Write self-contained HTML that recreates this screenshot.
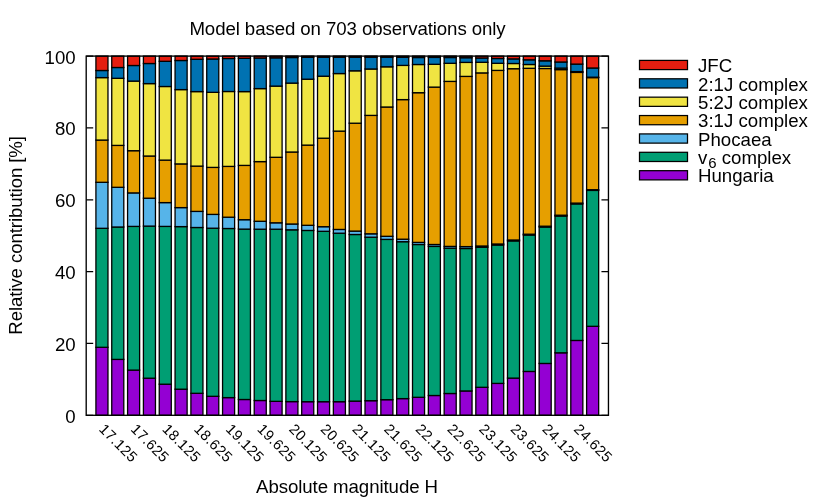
<!DOCTYPE html>
<html><head><meta charset="utf-8"><title>chart</title>
<style>html,body{margin:0;padding:0;background:#fff;}svg{display:block;will-change:transform;}text{font-family:"Liberation Sans",sans-serif;font-size:18.67px;fill:#000;}</style></head>
<body>
<svg width="830" height="498" viewBox="0 0 830 498">
<rect width="830" height="498" fill="#fff"/>
<g stroke="#000" stroke-width="1.3" fill="none">
<path d="M86.20 415.30h7M608.45 415.30h-7"/>
<path d="M86.20 343.46h7M608.45 343.46h-7"/>
<path d="M86.20 271.62h7M608.45 271.62h-7"/>
<path d="M86.20 199.78h7M608.45 199.78h-7"/>
<path d="M86.20 127.94h7M608.45 127.94h-7"/>
<path d="M86.20 56.10h7M608.45 56.10h-7"/>
</g>
<g stroke="#000" stroke-width="1.3">
<rect x="95.92" y="347.30" width="12.05" height="68.00" fill="#9400D3"/>
<rect x="95.92" y="228.30" width="12.05" height="119.00" fill="#009E73"/>
<rect x="95.92" y="182.30" width="12.05" height="46.00" fill="#56B4E9"/>
<rect x="95.92" y="140.05" width="12.05" height="42.25" fill="#E69F00"/>
<rect x="95.92" y="77.60" width="12.05" height="62.45" fill="#F0E442"/>
<rect x="95.92" y="70.50" width="12.05" height="7.10" fill="#0072B2"/>
<rect x="95.92" y="56.10" width="12.05" height="14.40" fill="#E51E10"/>
<rect x="111.75" y="359.40" width="12.05" height="55.90" fill="#9400D3"/>
<rect x="111.75" y="227.00" width="12.05" height="132.40" fill="#009E73"/>
<rect x="111.75" y="187.30" width="12.05" height="39.70" fill="#56B4E9"/>
<rect x="111.75" y="145.40" width="12.05" height="41.90" fill="#E69F00"/>
<rect x="111.75" y="78.30" width="12.05" height="67.10" fill="#F0E442"/>
<rect x="111.75" y="67.50" width="12.05" height="10.80" fill="#0072B2"/>
<rect x="111.75" y="56.10" width="12.05" height="11.40" fill="#E51E10"/>
<rect x="127.58" y="370.10" width="12.05" height="45.20" fill="#9400D3"/>
<rect x="127.58" y="226.40" width="12.05" height="143.70" fill="#009E73"/>
<rect x="127.58" y="192.90" width="12.05" height="33.50" fill="#56B4E9"/>
<rect x="127.58" y="150.70" width="12.05" height="42.20" fill="#E69F00"/>
<rect x="127.58" y="81.10" width="12.05" height="69.60" fill="#F0E442"/>
<rect x="127.58" y="65.50" width="12.05" height="15.60" fill="#0072B2"/>
<rect x="127.58" y="56.10" width="12.05" height="9.40" fill="#E51E10"/>
<rect x="143.41" y="378.20" width="12.05" height="37.10" fill="#9400D3"/>
<rect x="143.41" y="226.10" width="12.05" height="152.10" fill="#009E73"/>
<rect x="143.41" y="198.20" width="12.05" height="27.90" fill="#56B4E9"/>
<rect x="143.41" y="156.00" width="12.05" height="42.20" fill="#E69F00"/>
<rect x="143.41" y="83.60" width="12.05" height="72.40" fill="#F0E442"/>
<rect x="143.41" y="63.50" width="12.05" height="20.10" fill="#0072B2"/>
<rect x="143.41" y="56.10" width="12.05" height="7.40" fill="#E51E10"/>
<rect x="159.24" y="384.20" width="12.05" height="31.10" fill="#9400D3"/>
<rect x="159.24" y="226.40" width="12.05" height="157.80" fill="#009E73"/>
<rect x="159.24" y="202.60" width="12.05" height="23.80" fill="#56B4E9"/>
<rect x="159.24" y="160.10" width="12.05" height="42.50" fill="#E69F00"/>
<rect x="159.24" y="86.50" width="12.05" height="73.60" fill="#F0E442"/>
<rect x="159.24" y="61.30" width="12.05" height="25.20" fill="#0072B2"/>
<rect x="159.24" y="56.10" width="12.05" height="5.20" fill="#E51E10"/>
<rect x="175.07" y="389.20" width="12.05" height="26.10" fill="#9400D3"/>
<rect x="175.07" y="226.60" width="12.05" height="162.60" fill="#009E73"/>
<rect x="175.07" y="207.60" width="12.05" height="19.00" fill="#56B4E9"/>
<rect x="175.07" y="163.90" width="12.05" height="43.70" fill="#E69F00"/>
<rect x="175.07" y="89.60" width="12.05" height="74.30" fill="#F0E442"/>
<rect x="175.07" y="60.50" width="12.05" height="29.10" fill="#0072B2"/>
<rect x="175.07" y="56.10" width="12.05" height="4.40" fill="#E51E10"/>
<rect x="190.90" y="393.30" width="12.05" height="22.00" fill="#9400D3"/>
<rect x="190.90" y="227.50" width="12.05" height="165.80" fill="#009E73"/>
<rect x="190.90" y="211.40" width="12.05" height="16.10" fill="#56B4E9"/>
<rect x="190.90" y="166.10" width="12.05" height="45.30" fill="#E69F00"/>
<rect x="190.90" y="91.60" width="12.05" height="74.50" fill="#F0E442"/>
<rect x="190.90" y="59.30" width="12.05" height="32.30" fill="#0072B2"/>
<rect x="190.90" y="56.10" width="12.05" height="3.20" fill="#E51E10"/>
<rect x="206.73" y="396.30" width="12.05" height="19.00" fill="#9400D3"/>
<rect x="206.73" y="228.20" width="12.05" height="168.10" fill="#009E73"/>
<rect x="206.73" y="214.40" width="12.05" height="13.80" fill="#56B4E9"/>
<rect x="206.73" y="167.40" width="12.05" height="47.00" fill="#E69F00"/>
<rect x="206.73" y="92.35" width="12.05" height="75.05" fill="#F0E442"/>
<rect x="206.73" y="59.00" width="12.05" height="33.35" fill="#0072B2"/>
<rect x="206.73" y="56.10" width="12.05" height="2.90" fill="#E51E10"/>
<rect x="222.56" y="397.60" width="12.05" height="17.70" fill="#9400D3"/>
<rect x="222.56" y="228.50" width="12.05" height="169.10" fill="#009E73"/>
<rect x="222.56" y="217.20" width="12.05" height="11.30" fill="#56B4E9"/>
<rect x="222.56" y="166.40" width="12.05" height="50.80" fill="#E69F00"/>
<rect x="222.56" y="91.50" width="12.05" height="74.90" fill="#F0E442"/>
<rect x="222.56" y="58.50" width="12.05" height="33.00" fill="#0072B2"/>
<rect x="222.56" y="56.10" width="12.05" height="2.40" fill="#E51E10"/>
<rect x="238.39" y="399.50" width="12.05" height="15.80" fill="#9400D3"/>
<rect x="238.39" y="229.10" width="12.05" height="170.40" fill="#009E73"/>
<rect x="238.39" y="219.70" width="12.05" height="9.40" fill="#56B4E9"/>
<rect x="238.39" y="165.40" width="12.05" height="54.30" fill="#E69F00"/>
<rect x="238.39" y="91.60" width="12.05" height="73.80" fill="#F0E442"/>
<rect x="238.39" y="58.30" width="12.05" height="33.30" fill="#0072B2"/>
<rect x="238.39" y="56.10" width="12.05" height="2.20" fill="#E51E10"/>
<rect x="254.22" y="400.50" width="12.05" height="14.80" fill="#9400D3"/>
<rect x="254.22" y="229.20" width="12.05" height="171.30" fill="#009E73"/>
<rect x="254.22" y="221.30" width="12.05" height="7.90" fill="#56B4E9"/>
<rect x="254.22" y="161.60" width="12.05" height="59.70" fill="#E69F00"/>
<rect x="254.22" y="88.60" width="12.05" height="73.00" fill="#F0E442"/>
<rect x="254.22" y="58.00" width="12.05" height="30.60" fill="#0072B2"/>
<rect x="254.22" y="56.10" width="12.05" height="1.90" fill="#E51E10"/>
<rect x="270.04" y="401.35" width="12.05" height="13.95" fill="#9400D3"/>
<rect x="270.04" y="229.20" width="12.05" height="172.15" fill="#009E73"/>
<rect x="270.04" y="222.80" width="12.05" height="6.40" fill="#56B4E9"/>
<rect x="270.04" y="157.30" width="12.05" height="65.50" fill="#E69F00"/>
<rect x="270.04" y="86.10" width="12.05" height="71.20" fill="#F0E442"/>
<rect x="270.04" y="57.80" width="12.05" height="28.30" fill="#0072B2"/>
<rect x="270.04" y="56.10" width="12.05" height="1.70" fill="#E51E10"/>
<rect x="285.87" y="401.60" width="12.05" height="13.70" fill="#9400D3"/>
<rect x="285.87" y="229.80" width="12.05" height="171.80" fill="#009E73"/>
<rect x="285.87" y="224.00" width="12.05" height="5.80" fill="#56B4E9"/>
<rect x="285.87" y="152.00" width="12.05" height="72.00" fill="#E69F00"/>
<rect x="285.87" y="83.10" width="12.05" height="68.90" fill="#F0E442"/>
<rect x="285.87" y="57.50" width="12.05" height="25.60" fill="#0072B2"/>
<rect x="285.87" y="56.10" width="12.05" height="1.40" fill="#E51E10"/>
<rect x="301.70" y="401.70" width="12.05" height="13.60" fill="#9400D3"/>
<rect x="301.70" y="230.45" width="12.05" height="171.25" fill="#009E73"/>
<rect x="301.70" y="225.30" width="12.05" height="5.15" fill="#56B4E9"/>
<rect x="301.70" y="145.10" width="12.05" height="80.20" fill="#E69F00"/>
<rect x="301.70" y="79.20" width="12.05" height="65.90" fill="#F0E442"/>
<rect x="301.70" y="57.30" width="12.05" height="21.90" fill="#0072B2"/>
<rect x="301.70" y="56.10" width="12.05" height="1.20" fill="#E51E10"/>
<rect x="317.53" y="401.70" width="12.05" height="13.60" fill="#9400D3"/>
<rect x="317.53" y="231.30" width="12.05" height="170.40" fill="#009E73"/>
<rect x="317.53" y="226.70" width="12.05" height="4.60" fill="#56B4E9"/>
<rect x="317.53" y="138.20" width="12.05" height="88.50" fill="#E69F00"/>
<rect x="317.53" y="76.20" width="12.05" height="62.00" fill="#F0E442"/>
<rect x="317.53" y="57.20" width="12.05" height="19.00" fill="#0072B2"/>
<rect x="317.53" y="56.10" width="12.05" height="1.10" fill="#E51E10"/>
<rect x="333.36" y="401.70" width="12.05" height="13.60" fill="#9400D3"/>
<rect x="333.36" y="233.20" width="12.05" height="168.50" fill="#009E73"/>
<rect x="333.36" y="229.45" width="12.05" height="3.75" fill="#56B4E9"/>
<rect x="333.36" y="131.10" width="12.05" height="98.35" fill="#E69F00"/>
<rect x="333.36" y="73.55" width="12.05" height="57.55" fill="#F0E442"/>
<rect x="333.36" y="57.20" width="12.05" height="16.35" fill="#0072B2"/>
<rect x="333.36" y="56.10" width="12.05" height="1.10" fill="#E51E10"/>
<rect x="349.19" y="401.10" width="12.05" height="14.20" fill="#9400D3"/>
<rect x="349.19" y="234.50" width="12.05" height="166.60" fill="#009E73"/>
<rect x="349.19" y="231.10" width="12.05" height="3.40" fill="#56B4E9"/>
<rect x="349.19" y="123.20" width="12.05" height="107.90" fill="#E69F00"/>
<rect x="349.19" y="70.80" width="12.05" height="52.40" fill="#F0E442"/>
<rect x="349.19" y="57.20" width="12.05" height="13.60" fill="#0072B2"/>
<rect x="349.19" y="56.10" width="12.05" height="1.10" fill="#E51E10"/>
<rect x="365.02" y="400.70" width="12.05" height="14.60" fill="#9400D3"/>
<rect x="365.02" y="237.20" width="12.05" height="163.50" fill="#009E73"/>
<rect x="365.02" y="233.80" width="12.05" height="3.40" fill="#56B4E9"/>
<rect x="365.02" y="115.40" width="12.05" height="118.40" fill="#E69F00"/>
<rect x="365.02" y="69.00" width="12.05" height="46.40" fill="#F0E442"/>
<rect x="365.02" y="57.20" width="12.05" height="11.80" fill="#0072B2"/>
<rect x="365.02" y="56.10" width="12.05" height="1.10" fill="#E51E10"/>
<rect x="380.85" y="399.70" width="12.05" height="15.60" fill="#9400D3"/>
<rect x="380.85" y="239.40" width="12.05" height="160.30" fill="#009E73"/>
<rect x="380.85" y="236.30" width="12.05" height="3.10" fill="#56B4E9"/>
<rect x="380.85" y="107.00" width="12.05" height="129.30" fill="#E69F00"/>
<rect x="380.85" y="66.80" width="12.05" height="40.20" fill="#F0E442"/>
<rect x="380.85" y="57.20" width="12.05" height="9.60" fill="#0072B2"/>
<rect x="380.85" y="56.10" width="12.05" height="1.10" fill="#E51E10"/>
<rect x="396.68" y="398.60" width="12.05" height="16.70" fill="#9400D3"/>
<rect x="396.68" y="241.70" width="12.05" height="156.90" fill="#009E73"/>
<rect x="396.68" y="239.20" width="12.05" height="2.50" fill="#56B4E9"/>
<rect x="396.68" y="99.60" width="12.05" height="139.60" fill="#E69F00"/>
<rect x="396.68" y="65.40" width="12.05" height="34.20" fill="#F0E442"/>
<rect x="396.68" y="57.30" width="12.05" height="8.10" fill="#0072B2"/>
<rect x="396.68" y="56.10" width="12.05" height="1.20" fill="#E51E10"/>
<rect x="412.51" y="397.30" width="12.05" height="18.00" fill="#9400D3"/>
<rect x="412.51" y="244.50" width="12.05" height="152.80" fill="#009E73"/>
<rect x="412.51" y="242.40" width="12.05" height="2.10" fill="#56B4E9"/>
<rect x="412.51" y="92.70" width="12.05" height="149.70" fill="#E69F00"/>
<rect x="412.51" y="64.50" width="12.05" height="28.20" fill="#F0E442"/>
<rect x="412.51" y="57.50" width="12.05" height="7.00" fill="#0072B2"/>
<rect x="412.51" y="56.10" width="12.05" height="1.40" fill="#E51E10"/>
<rect x="428.33" y="395.50" width="12.05" height="19.80" fill="#9400D3"/>
<rect x="428.33" y="246.40" width="12.05" height="149.10" fill="#009E73"/>
<rect x="428.33" y="244.50" width="12.05" height="1.90" fill="#56B4E9"/>
<rect x="428.33" y="87.10" width="12.05" height="157.40" fill="#E69F00"/>
<rect x="428.33" y="64.30" width="12.05" height="22.80" fill="#F0E442"/>
<rect x="428.33" y="57.40" width="12.05" height="6.90" fill="#0072B2"/>
<rect x="428.33" y="56.10" width="12.05" height="1.30" fill="#E51E10"/>
<rect x="444.16" y="393.50" width="12.05" height="21.80" fill="#9400D3"/>
<rect x="444.16" y="248.20" width="12.05" height="145.30" fill="#009E73"/>
<rect x="444.16" y="246.40" width="12.05" height="1.80" fill="#56B4E9"/>
<rect x="444.16" y="81.40" width="12.05" height="165.00" fill="#E69F00"/>
<rect x="444.16" y="63.30" width="12.05" height="18.10" fill="#F0E442"/>
<rect x="444.16" y="57.50" width="12.05" height="5.80" fill="#0072B2"/>
<rect x="444.16" y="56.10" width="12.05" height="1.40" fill="#E51E10"/>
<rect x="459.99" y="390.95" width="12.05" height="24.35" fill="#9400D3"/>
<rect x="459.99" y="248.50" width="12.05" height="142.45" fill="#009E73"/>
<rect x="459.99" y="246.60" width="12.05" height="1.90" fill="#56B4E9"/>
<rect x="459.99" y="76.40" width="12.05" height="170.20" fill="#E69F00"/>
<rect x="459.99" y="62.40" width="12.05" height="14.00" fill="#F0E442"/>
<rect x="459.99" y="57.70" width="12.05" height="4.70" fill="#0072B2"/>
<rect x="459.99" y="56.10" width="12.05" height="1.60" fill="#E51E10"/>
<rect x="475.82" y="387.30" width="12.05" height="28.00" fill="#9400D3"/>
<rect x="475.82" y="247.30" width="12.05" height="140.00" fill="#009E73"/>
<rect x="475.82" y="246.00" width="12.05" height="1.30" fill="#56B4E9"/>
<rect x="475.82" y="72.90" width="12.05" height="173.10" fill="#E69F00"/>
<rect x="475.82" y="62.30" width="12.05" height="10.60" fill="#F0E442"/>
<rect x="475.82" y="58.00" width="12.05" height="4.30" fill="#0072B2"/>
<rect x="475.82" y="56.10" width="12.05" height="1.90" fill="#E51E10"/>
<rect x="491.65" y="383.40" width="12.05" height="31.90" fill="#9400D3"/>
<rect x="491.65" y="245.00" width="12.05" height="138.40" fill="#009E73"/>
<rect x="491.65" y="244.00" width="12.05" height="1.00" fill="#56B4E9"/>
<rect x="491.65" y="70.40" width="12.05" height="173.60" fill="#E69F00"/>
<rect x="491.65" y="63.30" width="12.05" height="7.10" fill="#F0E442"/>
<rect x="491.65" y="58.50" width="12.05" height="4.80" fill="#0072B2"/>
<rect x="491.65" y="56.10" width="12.05" height="2.40" fill="#E51E10"/>
<rect x="507.48" y="378.10" width="12.05" height="37.20" fill="#9400D3"/>
<rect x="507.48" y="240.90" width="12.05" height="137.20" fill="#009E73"/>
<rect x="507.48" y="240.00" width="12.05" height="0.90" fill="#56B4E9"/>
<rect x="507.48" y="68.70" width="12.05" height="171.30" fill="#E69F00"/>
<rect x="507.48" y="63.50" width="12.05" height="5.20" fill="#F0E442"/>
<rect x="507.48" y="58.90" width="12.05" height="4.60" fill="#0072B2"/>
<rect x="507.48" y="56.10" width="12.05" height="2.80" fill="#E51E10"/>
<rect x="523.31" y="371.45" width="12.05" height="43.85" fill="#9400D3"/>
<rect x="523.31" y="235.00" width="12.05" height="136.45" fill="#009E73"/>
<rect x="523.31" y="234.20" width="12.05" height="0.80" fill="#56B4E9"/>
<rect x="523.31" y="68.30" width="12.05" height="165.90" fill="#E69F00"/>
<rect x="523.31" y="64.50" width="12.05" height="3.80" fill="#F0E442"/>
<rect x="523.31" y="59.80" width="12.05" height="4.70" fill="#0072B2"/>
<rect x="523.31" y="56.10" width="12.05" height="3.70" fill="#E51E10"/>
<rect x="539.14" y="363.45" width="12.05" height="51.85" fill="#9400D3"/>
<rect x="539.14" y="227.00" width="12.05" height="136.45" fill="#009E73"/>
<rect x="539.14" y="226.20" width="12.05" height="0.80" fill="#56B4E9"/>
<rect x="539.14" y="68.50" width="12.05" height="157.70" fill="#E69F00"/>
<rect x="539.14" y="66.10" width="12.05" height="2.40" fill="#F0E442"/>
<rect x="539.14" y="60.80" width="12.05" height="5.30" fill="#0072B2"/>
<rect x="539.14" y="56.10" width="12.05" height="4.70" fill="#E51E10"/>
<rect x="554.97" y="352.80" width="12.05" height="62.50" fill="#9400D3"/>
<rect x="554.97" y="216.00" width="12.05" height="136.80" fill="#009E73"/>
<rect x="554.97" y="215.20" width="12.05" height="0.80" fill="#56B4E9"/>
<rect x="554.97" y="69.60" width="12.05" height="145.60" fill="#E69F00"/>
<rect x="554.97" y="68.10" width="12.05" height="1.50" fill="#F0E442"/>
<rect x="554.97" y="62.00" width="12.05" height="6.10" fill="#0072B2"/>
<rect x="554.97" y="56.10" width="12.05" height="5.90" fill="#E51E10"/>
<rect x="570.80" y="340.45" width="12.05" height="74.85" fill="#9400D3"/>
<rect x="570.80" y="203.90" width="12.05" height="136.55" fill="#009E73"/>
<rect x="570.80" y="203.10" width="12.05" height="0.80" fill="#56B4E9"/>
<rect x="570.80" y="72.40" width="12.05" height="130.70" fill="#E69F00"/>
<rect x="570.80" y="71.60" width="12.05" height="0.80" fill="#F0E442"/>
<rect x="570.80" y="64.10" width="12.05" height="7.50" fill="#0072B2"/>
<rect x="570.80" y="56.10" width="12.05" height="8.00" fill="#E51E10"/>
<rect x="586.62" y="326.30" width="12.05" height="89.00" fill="#9400D3"/>
<rect x="586.62" y="190.40" width="12.05" height="135.90" fill="#009E73"/>
<rect x="586.62" y="189.70" width="12.05" height="0.70" fill="#56B4E9"/>
<rect x="586.62" y="77.60" width="12.05" height="112.10" fill="#E69F00"/>
<rect x="586.62" y="77.20" width="12.05" height="0.40" fill="#F0E442"/>
<rect x="586.62" y="68.00" width="12.05" height="9.20" fill="#0072B2"/>
<rect x="586.62" y="56.10" width="12.05" height="11.90" fill="#E51E10"/>
</g>
<rect x="86.20" y="56.10" width="522.25" height="359.20" fill="none" stroke="#000" stroke-width="1.35"/>
<text x="75.7" y="422.80" text-anchor="end">0</text>
<text x="75.7" y="350.96" text-anchor="end">20</text>
<text x="75.7" y="279.12" text-anchor="end">40</text>
<text x="75.7" y="207.28" text-anchor="end">60</text>
<text x="75.7" y="135.44" text-anchor="end">80</text>
<text x="75.7" y="63.60" text-anchor="end">100</text>
<text x="347.5" y="34.7" text-anchor="middle" letter-spacing="-0.09">Model based on 703 observations only</text>
<text x="347" y="493" text-anchor="middle" letter-spacing="-0.08">Absolute magnitude H</text>
<text transform="translate(22.2,235.4) rotate(-90)" text-anchor="middle" letter-spacing="-0.1">Relative contribution [%]</text>
<text transform="translate(98.25,430.10) rotate(45)" style="font-size:14.67px" letter-spacing="0.35">17.125</text>
<text transform="translate(129.91,430.10) rotate(45)" style="font-size:14.67px" letter-spacing="0.35">17.625</text>
<text transform="translate(161.57,430.10) rotate(45)" style="font-size:14.67px" letter-spacing="0.35">18.125</text>
<text transform="translate(193.22,430.10) rotate(45)" style="font-size:14.67px" letter-spacing="0.35">18.625</text>
<text transform="translate(224.88,430.10) rotate(45)" style="font-size:14.67px" letter-spacing="0.35">19.125</text>
<text transform="translate(256.54,430.10) rotate(45)" style="font-size:14.67px" letter-spacing="0.35">19.625</text>
<text transform="translate(288.20,430.10) rotate(45)" style="font-size:14.67px" letter-spacing="0.35">20.125</text>
<text transform="translate(319.86,430.10) rotate(45)" style="font-size:14.67px" letter-spacing="0.35">20.625</text>
<text transform="translate(351.51,430.10) rotate(45)" style="font-size:14.67px" letter-spacing="0.35">21.125</text>
<text transform="translate(383.17,430.10) rotate(45)" style="font-size:14.67px" letter-spacing="0.35">21.625</text>
<text transform="translate(414.83,430.10) rotate(45)" style="font-size:14.67px" letter-spacing="0.35">22.125</text>
<text transform="translate(446.49,430.10) rotate(45)" style="font-size:14.67px" letter-spacing="0.35">22.625</text>
<text transform="translate(478.15,430.10) rotate(45)" style="font-size:14.67px" letter-spacing="0.35">23.125</text>
<text transform="translate(509.80,430.10) rotate(45)" style="font-size:14.67px" letter-spacing="0.35">23.625</text>
<text transform="translate(541.46,430.10) rotate(45)" style="font-size:14.67px" letter-spacing="0.35">24.125</text>
<text transform="translate(573.12,430.10) rotate(45)" style="font-size:14.67px" letter-spacing="0.35">24.625</text>
<rect x="639.5" y="60.40" width="48" height="9.2" fill="#E51E10" stroke="#000" stroke-width="1.25"/>
<text x="698" y="72.20">JFC</text>
<rect x="639.5" y="78.78" width="48" height="9.2" fill="#0072B2" stroke="#000" stroke-width="1.25"/>
<text x="698" y="90.58">2:1J complex</text>
<rect x="639.5" y="97.16" width="48" height="9.2" fill="#F0E442" stroke="#000" stroke-width="1.25"/>
<text x="698" y="108.96">5:2J complex</text>
<rect x="639.5" y="115.54" width="48" height="9.2" fill="#E69F00" stroke="#000" stroke-width="1.25"/>
<text x="698" y="127.34">3:1J complex</text>
<rect x="639.5" y="133.92" width="48" height="9.2" fill="#56B4E9" stroke="#000" stroke-width="1.25"/>
<text x="698" y="145.72">Phocaea</text>
<rect x="639.5" y="152.30" width="48" height="9.2" fill="#009E73" stroke="#000" stroke-width="1.25"/>
<text x="698" y="164.10">v<tspan font-size="14.94px" dx="0.9" dy="3.9">6</tspan><tspan dy="-3.9"> complex</tspan></text>
<rect x="639.5" y="170.68" width="48" height="9.2" fill="#9400D3" stroke="#000" stroke-width="1.25"/>
<text x="698" y="182.48">Hungaria</text>
</svg>
</body></html>
